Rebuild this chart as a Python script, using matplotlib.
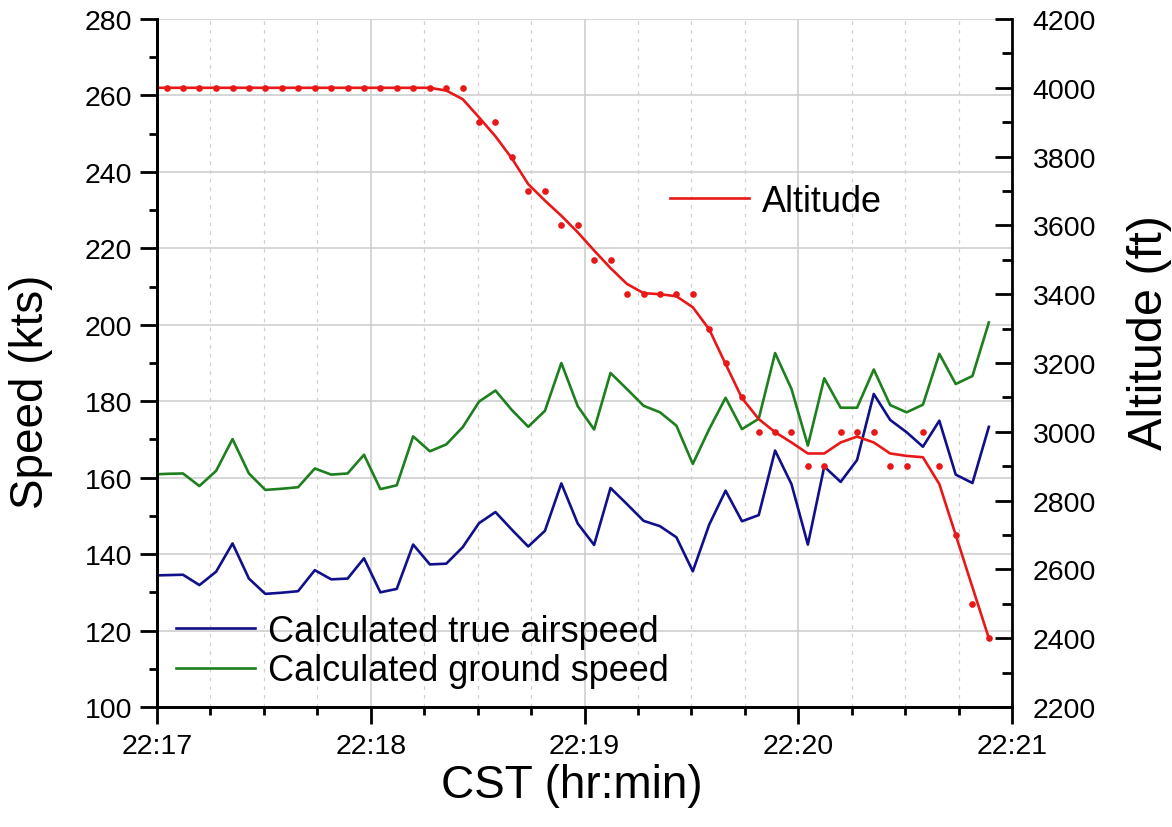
import numpy as np
import matplotlib.pyplot as plt
from matplotlib.ticker import MultipleLocator, FuncFormatter

plt.rcParams['font.family'] = ['Liberation Sans', 'DejaVu Sans']

# -------------------------
# Data
# -------------------------
# seconds after 22:17:00 (first sample sits just before the axis start, clipped)
t_sec = [-1.9, 2.7, 7.3, 11.9, 16.6, 21.2, 25.8, 30.4, 35.0, 39.6,
         44.3, 48.9, 53.5, 58.1, 62.7, 67.3, 71.9, 76.6, 81.2, 85.8,
         90.4, 95.0, 99.6, 104.2, 108.9, 113.5, 118.1, 122.7, 127.3, 131.9,
         136.6, 141.2, 145.8, 150.4, 155.0, 159.6, 164.2, 168.9, 173.5, 178.1,
         182.7, 187.3, 191.9, 196.5, 201.2, 205.8, 210.4, 215.0, 219.6, 224.2,
         228.9, 233.5]

true_airspeed = [134.4, 134.5, 134.6, 131.9, 135.4, 142.8, 133.6, 129.6, 129.9, 130.3,
                 135.8, 133.4, 133.6, 138.9, 130.0, 130.9, 142.5, 137.3, 137.5, 141.8,
                 148.1, 151.0, 146.4, 142.0, 146.1, 158.5, 148.0, 142.4, 157.3, 153.1,
                 148.7, 147.3, 144.4, 135.5, 147.7, 156.6, 148.6, 150.2, 167.1, 158.3,
                 142.5, 162.9, 158.9, 164.6, 181.9, 175.1, 171.9, 168.1, 174.9, 160.8,
                 158.6, 173.3]

ground_speed = [160.8, 161.0, 161.1, 157.8, 161.8, 170.1, 161.1, 156.8, 157.1, 157.5,
                162.4, 160.8, 161.1, 166.0, 157.0, 158.0, 170.8, 166.9, 168.7, 173.2,
                179.9, 182.8, 177.7, 173.3, 177.5, 190.0, 178.7, 172.6, 187.4, 183.2,
                178.8, 177.1, 173.6, 163.6, 172.7, 180.9, 172.7, 175.4, 192.6, 183.2,
                168.4, 186.0, 178.3, 178.3, 188.3, 179.0, 177.1, 179.1, 192.4, 184.5,
                186.6, 200.6]

# reported altitude (dots) and smoothed altitude (line), ft
altitude_raw = [4000, 4000, 4000, 4000, 4000, 4000, 4000, 4000, 4000, 4000,
                4000, 4000, 4000, 4000, 4000, 4000, 4000, 4000, 4000, 4000,
                3900, 3900, 3800, 3700, 3700, 3600, 3600, 3500, 3500, 3400,
                3400, 3400, 3400, 3400, 3300, 3200, 3100, 3000, 3000, 3000,
                2900, 2900, 3000, 3000, 3000, 2900, 2900, 3000, 2900, 2700,
                2500, 2400]

altitude_smooth = [4000, 4000, 4000, 4000, 4000, 4000, 4000, 4000, 4000, 4000,
                   4000, 4000, 4000, 4000, 4000, 4000, 4000, 4000, 3992, 3967,
                   3914, 3859, 3795, 3720, 3672, 3628, 3580, 3527, 3476, 3430,
                   3403, 3400, 3394, 3362, 3298, 3197, 3098, 3037, 2999, 2969,
                   2937, 2937, 2969, 2986, 2969, 2937, 2930, 2926, 2848, 2700,
                   2548, 2400]

x_ticks = [0, 60, 120, 180, 240]

# -------------------------
# Figure
# -------------------------
fig = plt.figure(figsize=(11.72, 8.28), dpi=100)
ax = fig.add_axes([157 / 1172, 1 - 708 / 828, 855 / 1172, 688 / 828])
ax2 = ax.twinx()

navy = '#10108a'
green = '#1e7f1e'
red = '#e81818'

l1, = ax.plot(t_sec, true_airspeed, color=navy, lw=1.9, label='Calculated true airspeed')
l2, = ax.plot(t_sec, ground_speed, color=green, lw=1.9, label='Calculated ground speed')
l3, = ax2.plot(t_sec, altitude_smooth, color=red, lw=1.9, label='Altitude')
ax2.plot(t_sec, altitude_raw, 'o', color=red, ms=4.8, mec='none')

ax.set_xlim(0, 240)
ax.set_ylim(100, 280)
ax2.set_ylim(2200, 4200)

ax.set_xticks(x_ticks)
ax.xaxis.set_minor_locator(MultipleLocator(15))
ax.xaxis.set_major_formatter(FuncFormatter(lambda v, p: '22:%02d' % (17 + int(round(v)) // 60)))
ax.yaxis.set_major_locator(MultipleLocator(20))
ax.yaxis.set_minor_locator(MultipleLocator(10))
ax2.yaxis.set_major_locator(MultipleLocator(200))
ax2.yaxis.set_minor_locator(MultipleLocator(100))

# grid: solid majors, dashed minor verticals
ax.grid(which='major', color='#cccccc', lw=1.1)
ax.grid(which='minor', axis='x', color='#d0d0d0', lw=0.9, ls=(0, (3, 4)))
ax.set_axisbelow(True)

for a in (ax, ax2):
    a.spines['top'].set_visible(False)
    for s in a.spines.values():
        s.set_linewidth(2)
ax.spines['right'].set_visible(False)

ax.tick_params(which='major', direction='out', length=12, width=2, labelsize=20.5, pad=7)
ax.tick_params(which='minor', direction='out', length=6, width=2)
ax.tick_params(axis='y', which='major', pad=6)
ax2.tick_params(which='major', direction='in', length=12, width=2, labelsize=20.5, pad=15)
ax2.tick_params(which='minor', direction='in', length=7, width=2)

ax.set_xlabel('CST (hr:min)', fontsize=33)
ax.xaxis.set_label_coords(0.485, -0.082)
ax.set_ylabel('Speed (kts)', fontsize=33)
ax.yaxis.set_label_coords(-0.122, 0.46)
ax2.set_ylabel('Altitude (ft)', fontsize=35)
ax2.yaxis.set_label_coords(1.135, 0.545)

leg1 = ax.legend(handles=[l1, l2], loc='upper left', bbox_to_anchor=(0.022, 0.135),
                 frameon=False, fontsize=26, handlelength=2.2, handletextpad=0.35,
                 labelspacing=0.12, borderpad=0, borderaxespad=0)
leg2 = ax2.legend(handles=[l3], loc='upper left', bbox_to_anchor=(0.6, 0.76),
                  frameon=False, fontsize=26, handlelength=2.2, handletextpad=0.35,
                  borderpad=0, borderaxespad=0)

fig.savefig('out.png', dpi=100)
